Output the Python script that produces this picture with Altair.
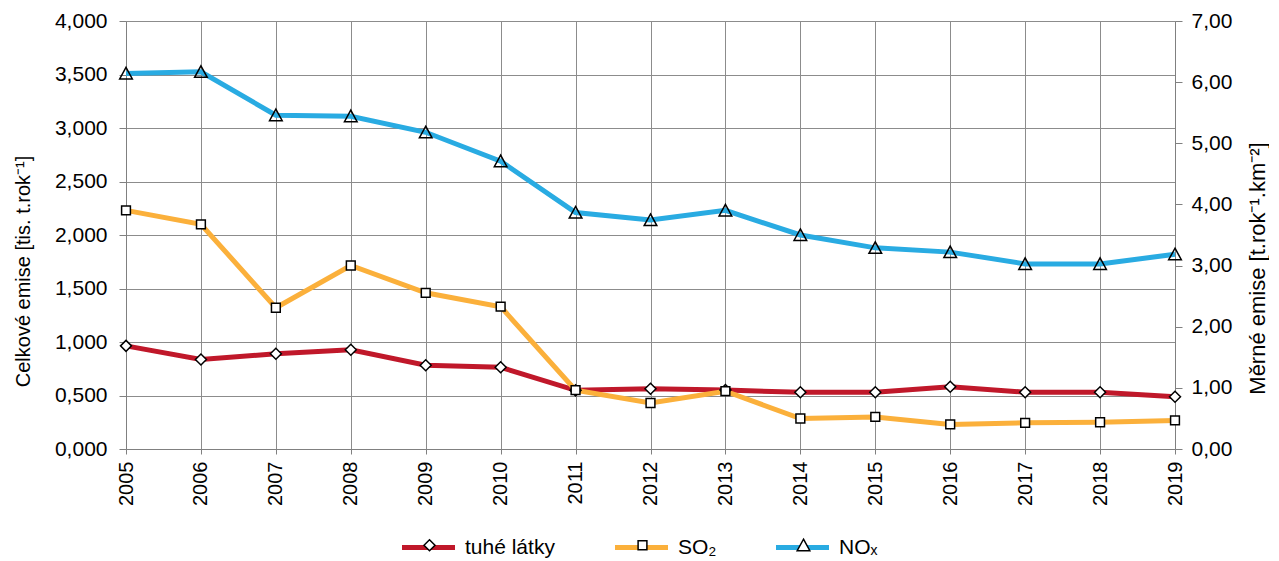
import altair as alt
import pandas as pd

FONT = "Liberation Sans"

years = [2005, 2006, 2007, 2008, 2009, 2010, 2011, 2012, 2013, 2014, 2015, 2016, 2017, 2018, 2019]
tuhe = [0.964, 0.836, 0.89, 0.927, 0.783, 0.764, 0.548, 0.563, 0.551, 0.53, 0.53, 0.582, 0.53, 0.53, 0.488]
so2 = [2.23, 2.10, 1.32, 1.715, 1.46, 1.33, 0.55, 0.43, 0.54, 0.285, 0.30, 0.23, 0.245, 0.25, 0.267]
nox = [3.51, 3.525, 3.12, 3.11, 2.96, 2.69, 2.21, 2.14, 2.23, 2.00, 1.88, 1.84, 1.73, 1.73, 1.82]

series_names = ["tuhé látky", "SO₂", "NOₓ"]
line_colors = ["#C0182A", "#FBB03B", "#29ABE2"]
shape_paths = ["diamond", "M-0.8,-0.8H0.8V0.8H-0.8Z", "M0,-1.1L1.15,1H-1.15Z"]
marker_fills = ["white", "white", "transparent"]

left_ticks = [0, 0.5, 1, 1.5, 2, 2.5, 3, 3.5, 4]
right_ticks = [0, 1, 2, 3, 4, 5, 6, 7]

rows = []
for name, vals in zip(series_names, [tuhe, so2, nox]):
    for yr, v in zip(years, vals):
        rows.append({"rok": yr, "serie": name, "hodnota": v})
df = pd.DataFrame(rows)
right_df = pd.DataFrame({"m": right_ticks})

GRID = "#8c8c8c"
AX = "#808080"

x_enc = alt.X(
    "rok:Q",
    scale=alt.Scale(domain=[2005, 2019], nice=False, zero=False),
    axis=alt.Axis(
        values=years, format="d", labelAngle=270, title=None,
        grid=True, gridColor=GRID, gridWidth=1,
        tickSize=5, tickColor=AX, domainColor=AX,
        labelFontSize=20, labelPadding=7, labelFont=FONT, labelColor="black",
    ),
)
y_left = alt.Y(
    "hodnota:Q",
    scale=alt.Scale(domain=[0, 4], nice=False),
    axis=alt.Axis(
        values=left_ticks,
        labelExpr="replace(format(datum.value, '.3f'), '.', ',')",
        title="Celkové emise [tis. t.rok⁻¹]",
        grid=True, gridColor=GRID, gridWidth=1,
        tickSize=7, tickColor=AX, domainColor=AX,
        labelFontSize=21, labelPadding=12, labelFont=FONT, labelColor="black",
        titleFontSize=20, titleFont=FONT, titleFontWeight="normal", titleColor="black",
        titlePadding=21, titleY=250,
    ),
)

LEG_X = 273.5
LEG_Y = 524
LAB_OFF = 7.5
COL_PAD = 49
LEG_LABEL = "datum.label == 'tuhé látky' ? '\u00a0\u00a0tuhé látky' : datum.label"

lines = alt.Chart(df).mark_line(strokeWidth=5).encode(
    x=x_enc,
    y=y_left,
    color=alt.Color(
        "serie:N",
        scale=alt.Scale(domain=series_names, range=line_colors),
        legend=alt.Legend(
            title=None, orient="none", legendX=LEG_X, legendY=LEG_Y - 26.5,
            direction="horizontal", symbolType="stroke", symbolSize=2809,
            symbolStrokeWidth=5, labelFontSize=21, labelFont=FONT,
            labelColor="black", labelOffset=LAB_OFF, columnPadding=COL_PAD, padding=0,
            labelExpr=LEG_LABEL,
        ),
    ),
)

points = alt.Chart(df).mark_point(filled=True, stroke="black", strokeWidth=1.5, opacity=1, size=121).encode(
    x=x_enc,
    y=y_left,
    shape=alt.Shape(
        "serie:N",
        sort=series_names,
        scale=alt.Scale(range=shape_paths),
        legend=alt.Legend(
            title=None, orient="none", legendX=LEG_X + 19.5, legendY=LEG_Y - 10.5,
            direction="horizontal", symbolSize=121,
            symbolFillColor="white", symbolStrokeColor="black", symbolStrokeWidth=1.5,
            labelFontSize=21, labelFont=FONT, labelColor="transparent",
            labelOffset=LAB_OFF + 45, columnPadding=COL_PAD, padding=0,
            labelExpr=LEG_LABEL,
        ),
    ),
    fill=alt.Fill("serie:N", scale=alt.Scale(domain=series_names, range=marker_fills), legend=None),
)

right = alt.Chart(right_df).mark_point(opacity=0).encode(
    y=alt.Y(
        "m:Q",
        scale=alt.Scale(domain=[0, 7], nice=False),
        axis=alt.Axis(
            orient="right", values=right_ticks,
            labelExpr="replace(format(datum.value, '.2f'), '.', ',')",
            title="Měrné emise [t.rok⁻¹.km⁻²]", titleAngle=270, titleBaseline="top",
            grid=False, tickSize=7, tickColor=AX, domainColor=AX,
            labelFontSize=21, labelPadding=9, labelFont=FONT, labelColor="black",
            titleFontSize=22, titleFont=FONT, titleFontWeight="normal", titleColor="black",
            titlePadding=16, titleY=247,
        ),
    )
)

main = alt.layer(lines, points)
chart = (
    alt.layer(main, right)
    .resolve_scale(y="independent")
    .properties(width=1049, height=428, padding={"left": 5, "top": 2, "right": 0, "bottom": 0})
    .configure_view(strokeWidth=0)
)

chart.save("out.html", embed_options={"renderer": "svg", "actions": False})
